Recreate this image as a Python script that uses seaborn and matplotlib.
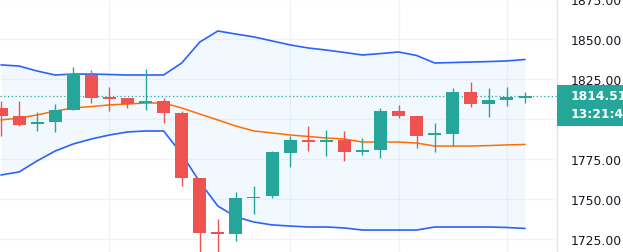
import matplotlib
matplotlib.use("Agg")
import matplotlib.pyplot as plt
import matplotlib.transforms as mtransforms
from matplotlib.patches import Rectangle
import numpy as np
import pandas as pd
import seaborn as sns

# ---- data ----
opens  = [1806.9, 1801.9, 1796.9, 1798.1, 1805.6, 1827.5, 1813.6, 1813.1, 1810.0, 1811.3,
          1803.8, 1763.1, 1729.4, 1728.1, 1750.4, 1751.9, 1778.8, 1786.9, 1785.6, 1786.9,
          1779.4, 1780.6, 1805.0, 1801.9, 1790.0, 1790.6, 1816.9, 1809.4, 1811.9, 1813.3]
closes = [1801.9, 1796.3, 1798.1, 1805.6, 1828.1, 1813.1, 1812.6, 1809.4, 1811.3, 1803.8,
          1763.1, 1728.8, 1728.4, 1750.6, 1751.4, 1779.4, 1786.9, 1785.6, 1786.9, 1779.4,
          1780.6, 1805.0, 1801.9, 1789.4, 1791.3, 1816.9, 1809.4, 1811.9, 1813.8, 1814.51]
highs  = [1811.3, 1811.3, 1804.4, 1809.4, 1832.5, 1830.6, 1820.0, 1813.1, 1831.3, 1813.1,
          1805.0, 1763.1, 1737.5, 1754.4, 1758.1, 1780.0, 1789.4, 1795.6, 1793.1, 1792.5,
          1788.1, 1806.9, 1808.8, 1801.9, 1797.5, 1819.4, 1823.1, 1819.4, 1820.0, 1816.9]
lows   = [1789.4, 1795.6, 1792.5, 1791.9, 1805.6, 1810.0, 1805.0, 1806.9, 1805.6, 1797.5,
          1758.1, 1712.5, 1712.5, 1723.8, 1740.6, 1750.6, 1770.0, 1780.0, 1776.9, 1773.8,
          1777.5, 1775.6, 1800.6, 1781.9, 1779.4, 1783.1, 1807.5, 1801.3, 1808.1, 1810.0]
upper  = [1833.8, 1833.1, 1830.0, 1827.5, 1828.1, 1828.1, 1827.8, 1827.5, 1827.5, 1827.5,
          1835.0, 1848.1, 1855.0, 1853.1, 1851.3, 1848.8, 1846.3, 1844.4, 1843.1, 1841.6,
          1840.0, 1840.9, 1841.9, 1839.7, 1835.0, 1835.3, 1835.6, 1835.9, 1836.3, 1837.2]
middle = [1799.4, 1800.6, 1802.5, 1805.0, 1806.9, 1807.8, 1808.8, 1809.4, 1810.0, 1810.0,
          1806.9, 1803.1, 1799.4, 1795.6, 1792.5, 1791.3, 1790.0, 1789.1, 1788.1, 1787.5,
          1785.6, 1785.6, 1785.6, 1785.0, 1783.1, 1783.1, 1783.1, 1783.4, 1783.8, 1784.1]
lower  = [1765.0, 1766.9, 1773.8, 1780.0, 1784.4, 1787.5, 1790.0, 1791.9, 1792.5, 1792.5,
          1778.1, 1760.6, 1745.6, 1738.8, 1735.6, 1733.8, 1733.1, 1732.5, 1732.5, 1731.9,
          1730.6, 1730.6, 1730.6, 1730.6, 1732.5, 1732.5, 1732.5, 1732.5, 1732.2, 1731.6]
y_ticks = [1725, 1750, 1775, 1800, 1825, 1850, 1875]
x_grid = [6, 16, 22, 28]
last_price = 1814.51
last_price_label = "1814.51"
countdown_label = "13:21:45"

UP = "#26a69a"
DOWN = "#ef5350"

sns.set_style("white")
plt.rcParams["font.family"] = ["DejaVu Sans"]

W, H = 623, 253
fig = plt.figure(figsize=(W / 100, H / 100), dpi=100)
axw = 557 / W
ax = fig.add_axes([0, 0, axw, 1])

n = len(opens)
idx = np.arange(n)
df = pd.DataFrame({"i": idx, "upper": upper, "middle": middle, "lower": lower})

# band background
ax.fill_between(df["i"], df["lower"], df["upper"], color="#2196F3", alpha=0.055,
                linewidth=0, zorder=1)
sns.lineplot(data=df, x="i", y="upper", ax=ax, color="#2962FF", lw=1.2, zorder=3)
sns.lineplot(data=df, x="i", y="lower", ax=ax, color="#2962FF", lw=1.2, zorder=3)
sns.lineplot(data=df, x="i", y="middle", ax=ax, color="#FF6D00", lw=1.1, zorder=3)

# candles
o = np.array(opens); c = np.array(closes)
cols = [UP if cc >= oo else DOWN for oo, cc in zip(o, c)]
ax.vlines(idx, lows, highs, colors=cols, lw=1.0, zorder=4)
body_bottom = np.minimum(o, c)
body_h = np.maximum(np.abs(c - o), 1.1)
ax.bar(idx, body_h, bottom=body_bottom, width=0.72, color=cols, linewidth=0, zorder=5)

# last price dotted line
ax.axhline(last_price, color=UP, lw=0.9, linestyle=(0, (1, 2)), zorder=2)

# axes limits / grid
ax.set_xlim(-1 / 18.07, 556 / 18.07)
ax.set_ylim(1875 - 253 * 0.625, 1875)
ax.set_xticks(x_grid)
ax.set_xticklabels([])
ax.set_yticks(y_ticks)
ax.set_yticklabels([f"{v:.2f}" for v in y_ticks])
ax.yaxis.tick_right()
ax.tick_params(axis="both", length=0)
ax.tick_params(axis="y", pad=10.2, labelsize=8.9, labelcolor="#131722")
for lab in ax.get_yticklabels():
    lab.set_horizontalalignment("left")
    lab.set_verticalalignment("center_baseline")
ax.grid(True, color="#f0f3fa", lw=1.0, zorder=0)
ax.set_axisbelow(True)
ax.set_xlabel(""); ax.set_ylabel("")
for s in ["top", "left", "bottom"]:
    ax.spines[s].set_visible(False)
ax.spines["right"].set_color("#e0e3eb")
ax.spines["right"].set_linewidth(1.0)

# price label box
trans = mtransforms.blended_transform_factory(ax.transAxes, ax.transData)
y_top = 1875 - 85.5 * 0.625
y_bot = 1875 - 127 * 0.625
box = Rectangle((1.0, y_bot), 0.2, y_top - y_bot, transform=trans, facecolor=UP,
                edgecolor="none", clip_on=False, zorder=10)
ax.add_patch(box)
x_txt = 571 / 557
ax.text(x_txt, 1875 - 96.5 * 0.625, last_price_label, transform=trans, color="white",
        fontsize=8.9, fontweight="bold", va="center", ha="left", clip_on=False, zorder=11)
ax.text(x_txt, 1875 - 114.5 * 0.625, countdown_label, transform=trans, color="white",
        fontsize=8.9, fontweight="bold", va="center", ha="left", clip_on=False, zorder=11)

fig.savefig("out.png", dpi=100)
